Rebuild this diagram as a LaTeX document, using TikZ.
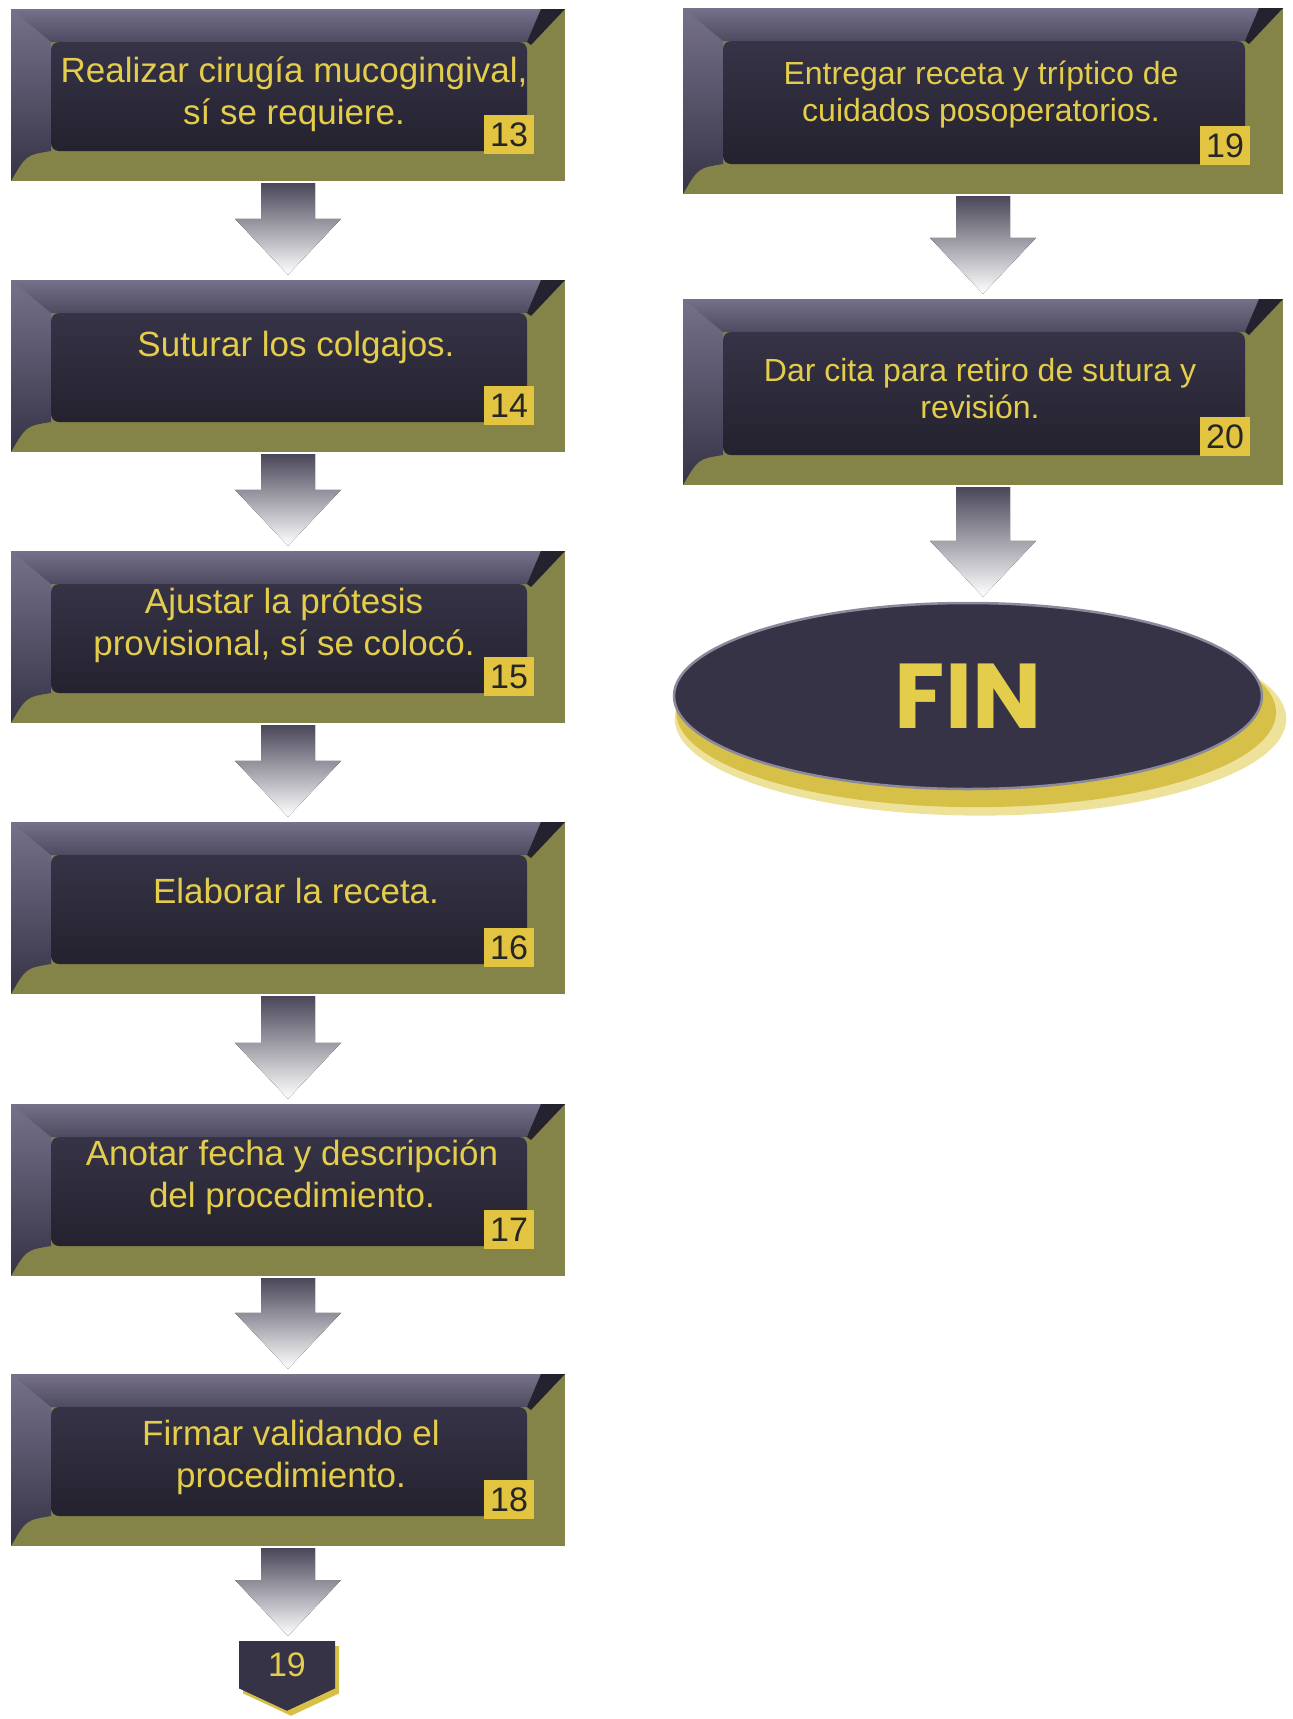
\documentclass[tikz,border=0pt]{standalone}
\usepackage{fontspec}
\setmainfont{Liberation Sans}
\newfontfamily\finfont{Poppins}
\usetikzlibrary{calc,shapes.geometric,shapes.symbols,shadows}
\definecolor{boxnavy}{HTML}{363347}
\definecolor{boxdeep}{HTML}{24222E}
\definecolor{bevtop}{HTML}{76718A}
\definecolor{bevmid}{HTML}{4E4A60}
\definecolor{boxolive}{HTML}{858448}
\definecolor{textgold}{HTML}{E3CD4B}
\definecolor{badgegold}{HTML}{E3C441}
\definecolor{badgetext}{HTML}{262626}
\definecolor{glowgold}{HTML}{D6C048}
\definecolor{palegold}{HTML}{EEE29A}
\definecolor{arrowdark}{HTML}{4A4759}
\definecolor{rimgray}{HTML}{8C899C}
\def\flowarrow(#1)(#2){\fill[arrowfill] ($(#1.south)+(-27,2)$) -- ($(#1.south)+(27,2)$) -- ($(#1.south |- #2.north)+(27,-61)$) -- ($(#1.south |- #2.north)+(53,-61)$) -- ($(#1.south |- #2.north)+(0,-5)$) -- ($(#1.south |- #2.north)+(-53,-61)$) -- ($(#1.south |- #2.north)+(-27,-61)$) -- cycle}

\begin{document}
\begin{tikzpicture}[x=1pt, y=-1pt,
	stepbox/.style={inner sep=0pt, fill=boxolive, path picture={
		\fill[top color=bevtop, bottom color=boxnavy] (path picture bounding box.north west) -- (path picture bounding box.north east) -- ($(path picture bounding box.north east)+(-38,33)$) -- ($(path picture bounding box.north west)+(40,33)$) -- ($(path picture bounding box.south west)+(40,-30)$) .. controls ($(path picture bounding box.south west)+(15,-26)$) .. (path picture bounding box.south west) -- cycle;
		\fill[top color=bevtop, bottom color=bevmid] (path picture bounding box.north west) -- (path picture bounding box.north east) -- ($(path picture bounding box.north east)+(-38,33)$) -- ($(path picture bounding box.north west)+(40,33)$) -- cycle;
		\fill[boxdeep] (path picture bounding box.north east) -- ($(path picture bounding box.north east)+(-24,0)$) -- ($(path picture bounding box.north east)+(-38,33)$) -- ($(path picture bounding box.north east)+(-34,36)$) -- cycle;
		\fill[top color=boxnavy, middle color=boxnavy, bottom color=boxdeep, rounded corners=8] ($(path picture bounding box.north west)+(40,33)$) rectangle ($(path picture bounding box.south east)+(-38,-30)$);
	}},
	leftbox/.style={stepbox, minimum width=554, minimum height=172},
	rightbox/.style={stepbox, minimum width=600, minimum height=186},
	steptext/.style={text=textgold, align=center, font=\fontsize{35}{42}\selectfont},
	righttext/.style={text=textgold, align=center, font=\fontsize{32}{37}\selectfont},
	badge/.style={fill=badgegold, text=badgetext, minimum width=50, minimum height=39, inner sep=0pt, font=\fontsize{34}{34}\selectfont},
	arrowfill/.style={top color=arrowdark, middle color=arrowdark!85!white, bottom color=white},
	offpage/.style={shape=signal, signal to=south, signal pointer angle=130, fill=boxnavy, text=textgold, minimum width=96, minimum height=56, inner sep=0pt, font=\fontsize{34}{34}\selectfont}]
		%%%%% START %%%%%
		\useasboundingbox (0,0) rectangle (1293,1719);
		
		% left column
		\node[leftbox] (b13) at (288,95) {};
		\node[steptext] (t13) at ($(b13.center)+(6,-1)$) {Realizar cirugía mucogingival,\\sí se requiere.};
		\node[badge, anchor=south east] (n13) at ($(b13.south east)+(-31,-27)$) {13};
		
		\node[leftbox] (b14) at (288,366) {};
		\node[steptext] (t14) at ($(b14.center)+(8,-19)$) {Suturar los colgajos.};
		\node[badge, anchor=south east] (n14) at ($(b14.south east)+(-31,-27)$) {14};
		
		\node[leftbox] (b15) at (288,637) {};
		\node[steptext] (t15) at ($(b15.center)+(-4,-12)$) {Ajustar la prótesis\\provisional, sí se colocó.};
		\node[badge, anchor=south east] (n15) at ($(b15.south east)+(-31,-27)$) {15};
		
		\node[leftbox] (b16) at (288,908) {};
		\node[steptext] (t16) at ($(b16.center)+(8,-17)$) {Elaborar la receta.};
		\node[badge, anchor=south east] (n16) at ($(b16.south east)+(-31,-27)$) {16};
		
		\node[leftbox] (b17) at (288,1190) {};
		\node[steptext] (t17) at ($(b17.center)+(4,-13)$) {Anotar fecha y descripción\\del procedimiento.};
		\node[badge, anchor=south east] (n17) at ($(b17.south east)+(-31,-27)$) {17};
		
		\node[leftbox] (b18) at (288,1460) {};
		\node[steptext] (t18) at ($(b18.center)+(3,-3)$) {Firmar validando el\\procedimiento.};
		\node[badge, anchor=south east] (n18) at ($(b18.south east)+(-31,-27)$) {18};
		
		\node[offpage, anchor=north, drop shadow={shadow xshift=4pt, shadow yshift=-5pt, fill=glowgold, opacity=1}] (p19) at (287,1641) {19};
		
		% right column
		\node[rightbox] (b19) at (983,101) {};
		\node[righttext] (t19) at ($(b19.center)+(-2,-6)$) {Entregar receta y tríptico de\\cuidados posoperatorios.};
		\node[badge, anchor=south east] (n19) at ($(b19.south east)+(-33,-29)$) {19};
		
		\node[rightbox] (b20) at (983,392) {};
		\node[righttext] (t20) at ($(b20.center)+(-3,-3)$) {Dar cita para retiro de sutura y\\revisión.};
		\node[badge, anchor=south east] (n20) at ($(b20.south east)+(-33,-29)$) {20};
		
		\node[ellipse, minimum width=588, minimum height=186, fill=boxnavy, draw=rimgray, line width=2.5,
			general shadow={shadow xshift=12pt, shadow yshift=-22pt, shadow scale=1.04, fill=palegold},
			general shadow={shadow xshift=8pt, shadow yshift=-16pt, shadow scale=1.02, fill=glowgold},
			text=textgold, font=\finfont\bfseries\fontsize{92}{92}\selectfont] (fin) at (968,696) {FIN};
		
		% arrows
		\flowarrow(b13)(b14);
		\flowarrow(b14)(b15);
		\flowarrow(b15)(b16);
		\flowarrow(b16)(b17);
		\flowarrow(b17)(b18);
		\flowarrow(b18)(p19);
		\flowarrow(b19)(b20);
		\flowarrow(b20)(fin);
		%%%%% END %%%%%
\end{tikzpicture}
\end{document}
